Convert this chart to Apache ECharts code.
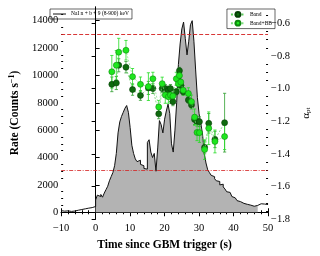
<!DOCTYPE html>
<html><head><meta charset="utf-8">
<script src="https://cdn.jsdelivr.net/npm/echarts@6/dist/echarts.min.js"></script>
<style>html,body{margin:0;padding:0;background:#fff}#c{width:320px;height:256px}</style>
</head><body><div id="c"></div>
<script>
// ---- light curve (0.5 s bins, bin start times) ----
const lcStart = -10, lcBin = 0.5, lcEnd = 50;
const lcRates = [
  120, 80, 40, 100, 20, 60, 140, 90, 30, 150, 110, 200, 160, 250, 180, 300, 220, 340, 260, 420,
  900, 1250, 1150, 1300, 1100, 1400, 1650, 1900, 2300, 2600, 2900, 3400, 4300, 5800, 6600, 7000, 7300, 7600, 7800, 7300,
  6200, 4900, 4300, 3900, 3700, 3800, 3500, 3400, 3200, 3150, 5100, 5300, 4400, 4000, 4300, 3000, 4700, 6700, 6400, 5800,
  6800, 7400, 7900, 7200, 5000, 4400, 6000, 8000, 10800, 12300, 13400, 13900, 12700, 11500, 12500, 13700, 14000, 12500, 10400, 8400,
  7200, 6500, 5700, 4300, 3600, 3100, 2900, 2700, 2600, 2450, 2300, 2250, 2000, 2050, 1850, 1700, 1500, 1450, 1350, 1150,
  1050, 920, 850, 780, 700, 650, 620, 580, 550, 520, 500, 440, 460, 500, 560, 620, 520, 600, 680, 560
];
const fillFrom = 0, fillTo = 47;

// ---- spectral fits ----
const specTimes = [4.7, 6.0, 6.7, 8.8, 10.7, 13.0, 15.3, 16.6, 18.3, 19.3, 20.2, 21.1, 21.7, 22.4, 23.4, 24.0, 24.3, 24.7, 25.4, 26.9, 27.8, 28.7, 29.4, 30.1, 31.6, 32.8, 34.6, 37.4];
const bandAlpha = [-0.974, -0.966, -0.857, -0.869, -1.006, -1.042, -0.996, -1.0, -1.155, -1.0, -1.0, -1.01, -1.0, -1.08, -1.02, -0.95, -0.89, -0.98, -1.02, -1.07, -1.10, -1.19, -1.20, -1.203, -1.36, -1.213, -1.312, -1.209];
const bandErr   = [0.045, 0.04, 0.04, 0.035, 0.035, 0.03, 0.04, 0.03, 0.03, 0.025, 0.025, 0.025, 0.025, 0.025, 0.02, 0.02, 0.02, 0.02, 0.02, 0.02, 0.025, 0.03, 0.03, 0.03, 0.04, 0.06, 0.05, 0.18];
const bbAlpha   = [-0.897, -0.857, -0.777, -0.765, -0.927, -0.974, -0.988, -0.94, -1.113, -0.97, -1.04, -1.05, -1.04, -1.046, -0.94, -0.97, -0.92, -0.96, -1.01, -1.03, -1.08, -1.175, -1.269, -1.27, -1.374, -1.243, -1.324, -1.294];
const bbErr     = [0.10, 0.09, 0.085, 0.06, 0.05, 0.045, 0.085, 0.04, 0.04, 0.04, 0.05, 0.04, 0.04, 0.04, 0.04, 0.035, 0.035, 0.035, 0.03, 0.035, 0.04, 0.05, 0.05, 0.06, 0.06, 0.10, 0.07, 0.08];

// ---- ticks / reference lines ----
const rateTicks = [0, 2000, 4000, 6000, 8000, 10000, 12000, 14000];
const rateMinor = [500, 1000, 1500, 2500, 3000, 3500, 4500, 5000, 5500, 6500, 7000, 7500, 8500, 9000, 9500, 10500, 11000, 11500, 12500, 13000, 13500, 14500];
const alphaTicks = [-1.8, -1.6, -1.4, -1.2, -1.0, -0.8, -0.6];
const alphaMinor = [-1.75, -1.7, -1.65, -1.55, -1.5, -1.45, -1.35, -1.3, -1.25, -1.15, -1.1, -1.05, -0.95, -0.9, -0.85, -0.75, -0.7, -0.65, -0.55];
const rateLines = [13000, 3060];
const legendLC = 'NaI n + b + 9 (8-900) keV';

// build series data
const lcLine = [];
const lcFill = [];
for (let i = 0; i < lcRates.length; i++) {
  const t = lcStart + i * lcBin;
  lcLine.push([t, lcRates[i]]);
  if (t >= fillFrom && t <= fillTo) lcFill.push([t, lcRates[i]]);
}
lcLine.push([lcEnd, lcRates[lcRates.length - 1]]);
const bandData = specTimes.map((t, i) => [t, bandAlpha[i]]);
const bbData = specTimes.map((t, i) => [t, bbAlpha[i]]);
const bandErrData = specTimes.map((t, i) => [t, bandAlpha[i] - bandErr[i], bandAlpha[i] + bandErr[i]]);
const bbErrData = specTimes.map((t, i) => [t, bbAlpha[i] - bbErr[i], bbAlpha[i] + bbErr[i]]);

function errRender(color) {
  return function (params, api) {
    const x = api.value(0);
    const p1 = api.coord([x, api.value(1)]);
    const p2 = api.coord([x, api.value(2)]);
    const cap = 1.6;
    const st = { stroke: color, lineWidth: 0.8 };
    return {
      type: 'group', children: [
        { type: 'line', shape: { x1: p1[0], y1: p1[1], x2: p2[0], y2: p2[1] }, style: st },
        { type: 'line', shape: { x1: p1[0] - cap, y1: p1[1], x2: p1[0] + cap, y2: p1[1] }, style: st },
        { type: 'line', shape: { x1: p2[0] - cap, y1: p2[1], x2: p2[0] + cap, y2: p2[1] }, style: st }
      ]
    };
  };
}

const FF = 'Liberation Serif';
const axisLine = { show: true, lineStyle: { color: '#000', width: 1 } };
const chart = echarts.init(document.getElementById('c'), null, { renderer: 'canvas' });
chart.setOption({
  animation: false,
  backgroundColor: '#fff',
  grid: { left: 48, right: 45, top: 7, bottom: 33 },
  legend: [
    {
      data: [{ name: legendLC, icon: 'rect' }], left: 50, top: 9, orient: 'vertical',
      borderColor: '#000', borderWidth: 0.6, padding: [2, 3, 2, 3],
      itemWidth: 13, itemHeight: 1, itemGap: 2,
      textStyle: { fontSize: 5.5, fontFamily: FF, color: '#000' }
    },
    {
      data: ['Band', 'Band+BB'], right: 45, top: 9, orient: 'vertical',
      borderColor: '#000', borderWidth: 0.6, padding: [2, 3, 2, 3],
      itemWidth: 14, itemHeight: 6, itemGap: 2,
      textStyle: { fontSize: 5.5, fontFamily: FF, color: '#000' }
    }
  ],
  xAxis: [
    {
      type: 'value', position: 'bottom', min: -10, max: 50, interval: 10,
      axisLine: axisLine, splitLine: { show: false },
      axisTick: { inside: true, length: 4, lineStyle: { color: '#000' } },
      minorTick: { show: true, splitNumber: 5, length: 2, lineStyle: { color: '#000' } },
      axisLabel: { fontSize: 10.5, fontFamily: FF, color: '#000', margin: 4,
        formatter: v => (v < 0 ? '\u2212' + Math.abs(v) : String(v)) },
      name: 'Time since GBM trigger (s)', nameLocation: 'middle', nameGap: 14,
      nameTextStyle: { fontSize: 11.5, fontWeight: 'bold', fontFamily: FF, color: '#000' }
    },
    {
      type: 'value', position: 'top', min: -10, max: 50, interval: 10,
      axisLine: axisLine, splitLine: { show: false },
      axisTick: { inside: true, length: 4, lineStyle: { color: '#000' } },
      minorTick: { show: true, splitNumber: 5, length: 2, lineStyle: { color: '#000' } },
      axisLabel: { show: false }
    }
  ],
  yAxis: [
    {
      type: 'value', position: 'left', min: -500, max: 15000,
      axisLine: axisLine, splitLine: { show: false },
      axisTick: { inside: true, length: 4, customValues: rateTicks, lineStyle: { color: '#000' } },
      axisLabel: { customValues: rateTicks, fontSize: 10.5, fontFamily: FF, color: '#000', margin: 3,
        formatter: v => String(v) },
      name: 'Rate (Counts s{sup|\u22121})', nameLocation: 'middle', nameGap: 30, nameRotate: 90,
      nameTextStyle: { fontSize: 11.5, fontWeight: 'bold', fontFamily: FF, color: '#000',
        rich: { sup: { fontSize: 8, fontWeight: 'bold', fontFamily: FF, verticalAlign: 'top', padding: [0, 0, 6, 0] } } }
    },
    {
      type: 'value', position: 'right', min: -1.8, max: -0.5,
      axisLine: axisLine, splitLine: { show: false },
      axisTick: { inside: true, length: 4, customValues: alphaTicks, lineStyle: { color: '#000' } },
      axisLabel: { customValues: alphaTicks, fontSize: 10.5, fontFamily: FF, color: '#000', margin: 3,
        formatter: v => (v < 0 ? '\u2212' : '') + Math.abs(v).toFixed(1) },
      name: '\u03b1{sub|pt}', nameLocation: 'middle', nameGap: 30, nameRotate: 90,
      nameTextStyle: { fontSize: 11, fontFamily: FF, color: '#000',
        rich: { sub: { fontSize: 7, fontFamily: FF, verticalAlign: 'bottom', padding: [4, 0, 0, 0] } } }
    },
    {
      type: 'value', position: 'left', min: -500, max: 15000,
      axisLine: { show: false }, splitLine: { show: false },
      axisTick: { inside: true, length: 2, customValues: rateMinor, lineStyle: { color: '#000' } },
      axisLabel: { show: false }
    },
    {
      type: 'value', position: 'right', min: -1.8, max: -0.5,
      axisLine: { show: false }, splitLine: { show: false },
      axisTick: { inside: true, length: 2, customValues: alphaMinor, lineStyle: { color: '#000' } },
      axisLabel: { show: false }
    }
  ],
  series: [
    {
      type: 'line', name: 'fill', data: lcFill, step: 'end', symbol: 'none',
      lineStyle: { width: 0 }, areaStyle: { color: '#b3b3b3', opacity: 1 }, z: 1, silent: true
    },
    {
      type: 'line', name: legendLC, data: lcLine, step: 'end', symbol: 'none',
      lineStyle: { color: '#111', width: 1 }, itemStyle: { color: '#111' }, z: 2, silent: true,
      markLine: {
        silent: true, symbol: 'none', label: { show: false },
        data: [
          { yAxis: rateLines[0], lineStyle: { color: '#d42020', width: 0.9, type: [4, 2] } },
          { yAxis: rateLines[1], lineStyle: { color: '#d42020', width: 0.8, type: [4, 1.5, 1, 1.5] } }
        ]
      }
    },
    {
      type: 'custom', name: 'bandErr', yAxisIndex: 1, data: bandErrData,
      renderItem: errRender('#2f9e2f'), z: 3, silent: true
    },
    {
      type: 'custom', name: 'bbErr', yAxisIndex: 1, data: bbErrData,
      renderItem: errRender('#22dd22'), z: 3, silent: true
    },
    {
      type: 'line', name: 'Band', yAxisIndex: 1, data: bandData,
      symbol: 'circle', symbolSize: 6, showAllSymbol: true,
      lineStyle: { color: '#5ccf5c', width: 0.7, type: [2, 1.5] },
      itemStyle: { color: '#0e6a0e', borderColor: '#064006', borderWidth: 0.6 }, z: 4
    },
    {
      type: 'line', name: 'Band+BB', yAxisIndex: 1, data: bbData,
      symbol: 'circle', symbolSize: 6, showAllSymbol: true,
      lineStyle: { color: '#7ee07e', width: 0.7, type: [2, 1.5] },
      itemStyle: { color: '#1ee61e', borderColor: '#0d8a0d', borderWidth: 0.6 }, z: 5
    }
  ]
});
</script>
</body></html>
